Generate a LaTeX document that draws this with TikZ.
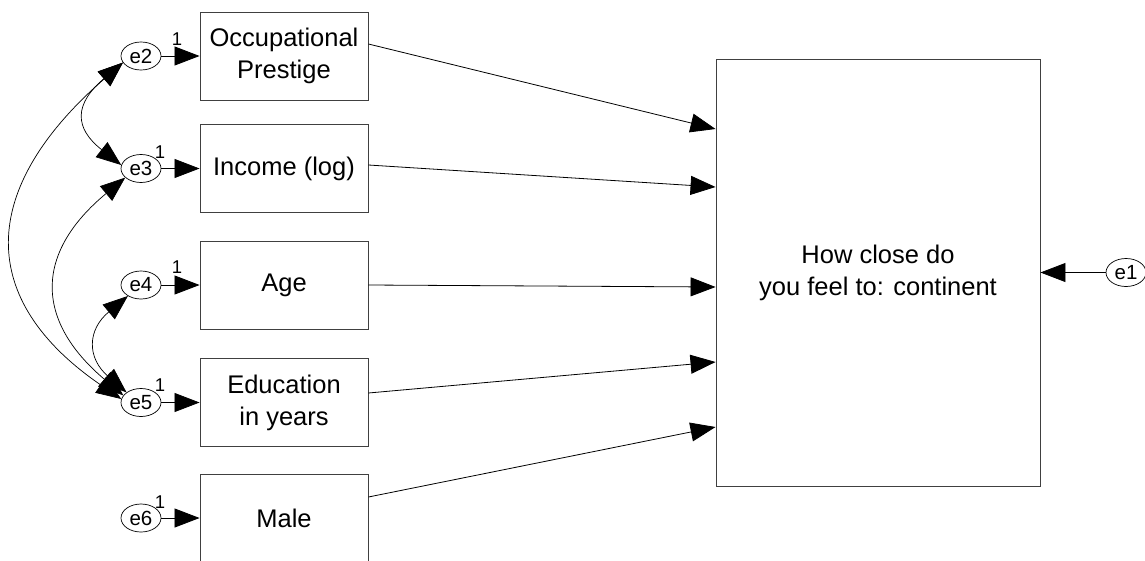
\documentclass[tikz,border=0pt]{standalone}
\usepackage{fontspec}
\setmainfont{Liberation Sans}
\usetikzlibrary{arrows.meta,shapes.geometric}
\begin{document}
\begin{tikzpicture}[x=1pt,y=-1pt,
  obs/.style={draw=black!75, line width=0.9pt, minimum width=168pt, minimum height=88pt, inner sep=0pt, align=center, font=\fontsize{25.5}{32}\selectfont},
  err/.style={draw, ellipse, line width=0.7pt, minimum width=40pt, minimum height=28pt, inner sep=0pt, font=\fontsize{20.5}{20.5}\selectfont},
  one/.style={font=\fontsize{18.5}{18.5}\selectfont, inner sep=0pt},
  regpath/.style={-{Triangle[length=25pt,width=19pt]}, line width=0.8pt},
  covpath/.style={{Triangle[length=25pt,width=19pt]}-{Triangle[length=25pt,width=19pt]}, line width=0.7pt}]
\useasboundingbox (0,0) rectangle (1145,560);
\fill[white] (0,0) rectangle (1145,560);
% observed boxes
\node[obs] (occ) at (284,56) {Occupational\\Prestige};
\node[obs] (inc) at (284,168.5) {Income (log)};
\node[obs] (age) at (284,285) {Age};
\node[obs] (edu) at (284,402.5) {Education\\in years};
\node[obs] (male) at (284,518) {Male};
\node[obs, minimum width=324pt, minimum height=427pt] (dv) at (878,272.5) {How close do\\you feel to: continent};
% error terms
\node[err] (e1) at (1126,272.5) {e1};
\node[err] (e2) at (141,56) {e2};
\node[err] (e3) at (141,168.5) {e3};
\node[err] (e4) at (141,285) {e4};
\node[err] (e5) at (141,402.5) {e5};
\node[err] (e6) at (141,518) {e6};
% weight labels
\node[one] (l2) at (177,39) {1};
\node[one] (l3) at (160,152) {1};
\node[one] (l4) at (177,267) {1};
\node[one] (l5) at (160,385) {1};
\node[one] (l6) at (160,502) {1};
% error to observed
\draw[regpath] (e2) -- (occ);
\draw[regpath] (e3) -- (inc);
\draw[regpath] (e4) -- (age);
\draw[regpath] (e5) -- (edu);
\draw[regpath] (e6) -- (male);
\draw[regpath] (e1) -- (dv);
% regression paths
\coordinate (s1) at (occ.east |- 0,44);
\coordinate (s2) at (inc.east |- 0,165);
\coordinate (s3) at (age.east |- 0,285);
\coordinate (s4) at (edu.east |- 0,393);
\coordinate (s5) at (male.east |- 0,497);
\coordinate (t1) at (dv.west |- 0,129);
\coordinate (t2) at (dv.west |- 0,187);
\coordinate (t3) at (dv.west |- 0,287);
\coordinate (t4) at (dv.west |- 0,362);
\coordinate (t5) at (dv.west |- 0,427);
\draw[regpath] (s1) -- (t1);
\draw[regpath] (s2) -- (t2);
\draw[regpath] (s3) -- (t3);
\draw[regpath] (s4) -- (t4);
\draw[regpath] (s5) -- (t5);
% covariances
\draw[covpath] (e2.200) .. controls (-23,190) and (-23,300) .. (e5.170);
\draw[covpath] (e2.200) .. controls (74,104) and (74,128) .. (e3.170);
\draw[covpath] (e3.210) .. controls (34.5,253) and (34.5,320) .. (e5.158);
\draw[covpath] (e4.220) .. controls (87,330) and (87,358) .. (e5.145);
\end{tikzpicture}
\end{document}
